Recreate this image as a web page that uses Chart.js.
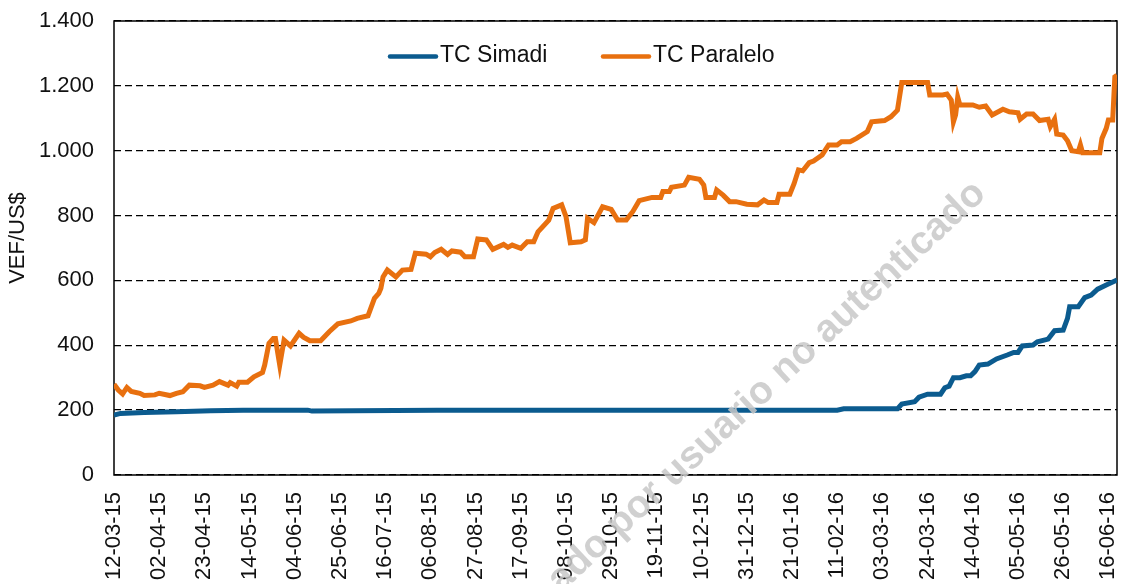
<!DOCTYPE html>
<html>
<head>
<meta charset="utf-8">
<script src="https://cdn.jsdelivr.net/npm/chart.js@4/dist/chart.umd.min.js"></script>
<style>
  html, body { margin: 0; padding: 0; background: #fff; }
  #c { display: block; }
</style>
</head>
<body>
<canvas id="c" width="1125" height="584"></canvas>
<script>
// x axis: days counted from 12-03-15, one label every 21 days
const tickLabels = [
  '12-03-15', '02-04-15', '23-04-15', '14-05-15', '04-06-15', '25-06-15',
  '16-07-15', '06-08-15', '27-08-15', '17-09-15', '08-10-15', '29-10-15',
  '19-11-15', '10-12-15', '31-12-15', '21-01-16', '11-02-16', '03-03-16',
  '24-03-16', '14-04-16', '05-05-16', '26-05-16', '16-06-16',
];
const lastDay = 466;

// TC Simadi (VEF/US$)
const simadiDays = [0, 3, 14, 29, 45, 60, 90, 92, 150, 240, 336, 339, 364, 366, 372, 374, 378,
  384, 386, 388, 390, 393, 396, 398, 400, 402, 406, 410, 415, 418, 420, 422, 427, 429, 434,
  437, 441, 443, 444, 448, 451, 454, 457, 461, 466];
const simadiValues = [185, 190, 193, 195, 198, 200, 200, 197, 200, 200, 200, 204, 204, 219, 226,
  240, 249, 249, 269, 274, 300, 300, 306, 306, 319, 339, 342, 358, 370, 378, 378, 398, 401,
  411, 419, 445, 447, 483, 519, 519, 547, 555, 573, 586, 601];

// TC Paralelo (VEF/US$)
const paraleloDays = [0, 2, 4, 6, 8, 12, 14, 19, 21, 26, 29, 32, 35, 40, 42, 46, 49, 53, 54, 57,
  58, 62, 65, 69, 70, 72, 74, 75, 77, 79, 82, 86, 88, 91, 96, 100, 104, 110, 113, 118, 121,
  123, 124, 125, 127, 131, 134, 138, 140, 145, 147, 149, 152, 155, 157, 161, 163, 167, 169,
  173, 176, 181, 183, 185, 189, 192, 195, 197, 202, 204, 208, 210, 212, 217, 219, 220, 223,
  227, 231, 234, 238, 241, 244, 250, 254, 255, 258, 259, 265, 267, 272, 274, 275, 279, 280,
  283, 286, 289, 294, 299, 302, 304, 308, 309, 314, 316, 318, 320, 323, 325, 329, 332, 336,
  338, 342, 345, 350, 352, 358, 361, 364, 366, 378, 379, 385, 387, 389, 390, 391, 392, 393,
  399, 402, 405, 408, 413, 416, 420, 421, 424, 427, 430, 434, 435, 437, 438, 441, 443, 445,
  448, 449, 450, 458, 459, 461, 462, 464, 465, 466];
const paraleloValues = [280, 262, 250, 270, 258, 252, 245, 247, 252, 245, 252, 257, 277, 275,
  270, 277, 288, 277, 285, 274, 286, 286, 303, 316, 339, 406, 421, 421, 339, 416, 398, 437,
  425, 414, 414, 442, 466, 475, 483, 491, 545, 560, 576, 611, 632, 611, 632, 634, 684, 681,
  673, 686, 696, 680, 691, 687, 673, 673, 728, 725, 696, 711, 702, 709, 699, 719, 719, 750,
  786, 822, 833, 797, 716, 719, 725, 792, 778, 827, 819, 786, 786, 812, 846, 856, 856, 874,
  874, 887, 894, 918, 912, 894, 856, 856, 879, 863, 843, 843, 835, 833, 848, 840, 840, 866,
  866, 899, 941, 938, 963, 968, 987, 1018, 1018, 1028, 1028, 1038, 1059, 1089, 1093, 1105,
  1125, 1210, 1210, 1172, 1172, 1175, 1156, 1089, 1110, 1165, 1141, 1141, 1134, 1138, 1110,
  1128, 1120, 1117, 1097, 1113, 1113, 1093, 1097, 1074, 1097, 1051, 1048, 1031, 1000, 997,
  1018, 994, 994, 1038, 1069, 1095, 1095, 1228, 1233];

const FONT = "'Liberation Sans', Arial, sans-serif";
const BLUE = '#0b5b8f';
const ORANGE = '#e8700f';

function toPoints(days, values) {
  return days.map((d, i) => ({ x: d, y: values[i] }));
}

function thousands(v) {
  return String(v).replace(/\B(?=(\d{3})+(?!\d))/g, '.');
}

// plot frame, drawn under the lines
const framePlugin = {
  id: 'frame',
  beforeDatasetsDraw(chart) {
    const { ctx, chartArea: a } = chart;
    ctx.save();
    ctx.strokeStyle = '#000';
    ctx.lineWidth = 1.5;
    ctx.strokeRect(a.left, a.top, a.right - a.left, a.bottom - a.top);
    ctx.restore();
  },
};

// y title, legend inside the plot, watermark on top of everything
const overlayPlugin = {
  id: 'overlay',
  afterDraw(chart) {
    const ctx = chart.ctx;
    ctx.save();
    ctx.fillStyle = '#111';
    ctx.font = '22px ' + FONT;
    ctx.textAlign = 'center';
    ctx.textBaseline = 'middle';
    ctx.translate(18, 238);
    ctx.rotate(-Math.PI / 2);
    ctx.fillText('VEF/US$', 0, 0);
    ctx.restore();

    ctx.save();
    const items = [
      { text: 'TC Simadi', color: BLUE, x: 390 },
      { text: 'TC Paralelo', color: ORANGE, x: 603 },
    ];
    ctx.font = '23px ' + FONT;
    ctx.textBaseline = 'middle';
    ctx.lineCap = 'round';
    items.forEach((it) => {
      ctx.strokeStyle = it.color;
      ctx.lineWidth = 4.5;
      ctx.beginPath();
      ctx.moveTo(it.x, 56.5);
      ctx.lineTo(it.x + 46, 56.5);
      ctx.stroke();
      ctx.fillStyle = '#111';
      ctx.fillText(it.text, it.x + 50, 56);
    });
    ctx.restore();

    ctx.save();
    ctx.translate(980, 188);
    ctx.rotate(-43 * Math.PI / 180);
    ctx.font = 'bold 39px ' + FONT;
    ctx.fillStyle = 'rgba(200,200,200,0.85)';
    ctx.textAlign = 'right';
    ctx.textBaseline = 'middle';
    ctx.fillText('ado por usuario no autenticado', 0, 0);
    ctx.restore();
  },
};

new Chart(document.getElementById('c'), {
  type: 'line',
  data: {
    datasets: [
      {
        label: 'TC Simadi',
        data: toPoints(simadiDays, simadiValues),
        borderColor: BLUE,
        borderWidth: 5,
        pointRadius: 0,
        tension: 0,
      },
      {
        label: 'TC Paralelo',
        data: toPoints(paraleloDays, paraleloValues),
        borderColor: ORANGE,
        borderWidth: 5,
        pointRadius: 0,
        tension: 0,
      },
    ],
  },
  options: {
    responsive: false,
    animation: false,
    layout: { padding: { top: 21, right: 8, left: 0, bottom: 0 } },
    plugins: {
      legend: { display: false },
      tooltip: { enabled: false },
    },
    scales: {
      x: {
        type: 'linear',
        min: 0,
        max: lastDay,
        grid: { display: false, drawTicks: false },
        border: { display: false },
        ticks: {
          stepSize: 21,
          includeBounds: false,
          autoSkip: false,
          maxRotation: 90,
          minRotation: 90,
          padding: 17,
          color: '#111',
          font: { size: 22, family: FONT },
          callback: (v) => tickLabels[v / 21] ?? '',
        },
        afterFit(s) {
          s.height = 109;
          s.paddingLeft = 0;
          s.paddingRight = 0;
        },
      },
      y: {
        min: 0,
        max: 1400,
        grid: { color: '#000', lineWidth: 1.3, drawTicks: false },
        border: { display: false, dash: [7, 4] },
        ticks: {
          stepSize: 200,
          padding: 20,
          color: '#111',
          font: { size: 22, family: FONT },
          callback: (v) => thousands(v),
        },
        afterFit(s) {
          s.width = 114;
          s.paddingTop = 0;
          s.paddingBottom = 0;
        },
      },
    },
  },
  plugins: [framePlugin, overlayPlugin],
});
</script>
</body>
</html>
